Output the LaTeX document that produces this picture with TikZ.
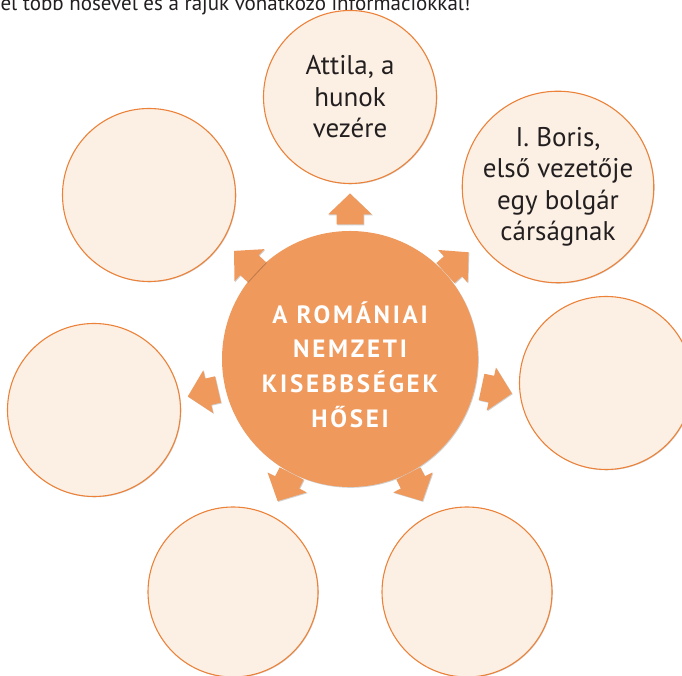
\documentclass[tikz,border=0pt]{standalone}
\usepackage{fontspec}
\setsansfont{PT Sans}
\newfontfamily\hubfont{PT Sans}[LetterSpace=11]
\usetikzlibrary{shadows,positioning}

\definecolor{hubfill}{RGB}{239,153,92}
\definecolor{slotfill}{RGB}{252,240,228}
\definecolor{slotdraw}{RGB}{236,130,58}
\definecolor{ink}{RGB}{35,31,32}

\begin{document}
\begin{tikzpicture}[x=1pt,y=1pt,
    soft/.style={drop shadow={shadow xshift=0.8pt, shadow yshift=-0.8pt, fill=black, opacity=0.18}},
    hub/.style={circle, soft, fill=hubfill, minimum size=256pt, inner sep=0pt},
    hubtext/.style={align=center, text=white, font=\hubfont\bfseries\fontsize{25}{34.7}\selectfont},
    slot/.style={circle, soft, draw=slotdraw, line width=1.1pt, fill=slotfill, minimum size=173pt,
                 inner sep=0pt, align=center, text=ink, font=\sffamily\fontsize{27}{31.5}\selectfont},
    blockarrow/.pic={\fill[hubfill, soft] (-15.5,-13.5) -- (-5.5,-13.5) -- (-5.5,-22) -- (15.5,0)
                      -- (-5.5,22) -- (-5.5,13.5) -- (-15.5,13.5) -- cycle;}]
  \useasboundingbox (0,0) rectangle (682,676);
  \clip (0,0) rectangle (682,676);
  \node[anchor=base east, text=ink, font=\sffamily\fontsize{21}{24}\selectfont] (task) at (474,665)
    {el több hősével és a rájuk vonatkozó információkkal!};
  % outer circles
  \node[slot]                   (top) at (350,579) {Attila, a\\hunok\\vezére};
  \node[slot, minimum size=190pt] (tr) at (558,489) {I. Boris,\\első vezetője\\egy bolgár\\cárságnak};
  \node[slot]                   (tl)  at (149,481) {};
  \node[slot]                   (L)   at (94,266)  {};
  \node[slot]                   (R)   at (606,293) {};
  \node[slot, minimum size=170pt] (bl) at (233,84) {};
  \node[slot, minimum size=170pt] (br) at (467,84) {};
  % centre
  \node[hub] (hub) at (350,317) {};
  \node[hubtext] (title) at ([yshift=-5.5pt]hub.center) {A ROMÁNIAI\\NEMZETI\\KISEBBSÉGEK\\HŐSEI};
  % arrows
  \path (hub.center) ++(90:150)  pic[rotate=90]  {blockarrow};
  \path (hub.center) ++(137:143) pic[rotate=137] {blockarrow};
  \path (hub.center) ++(42:144)  pic[rotate=42]  {blockarrow};
  \path (hub.center) ++(193:151) pic[rotate=193] {blockarrow};
  \path (hub.center) ++(348:150) pic[rotate=348] {blockarrow};
  \path (hub.center) ++(243:144) pic[rotate=243] {blockarrow};
  \path (hub.center) ++(297:144) pic[rotate=297] {blockarrow};
\end{tikzpicture}
\end{document}
